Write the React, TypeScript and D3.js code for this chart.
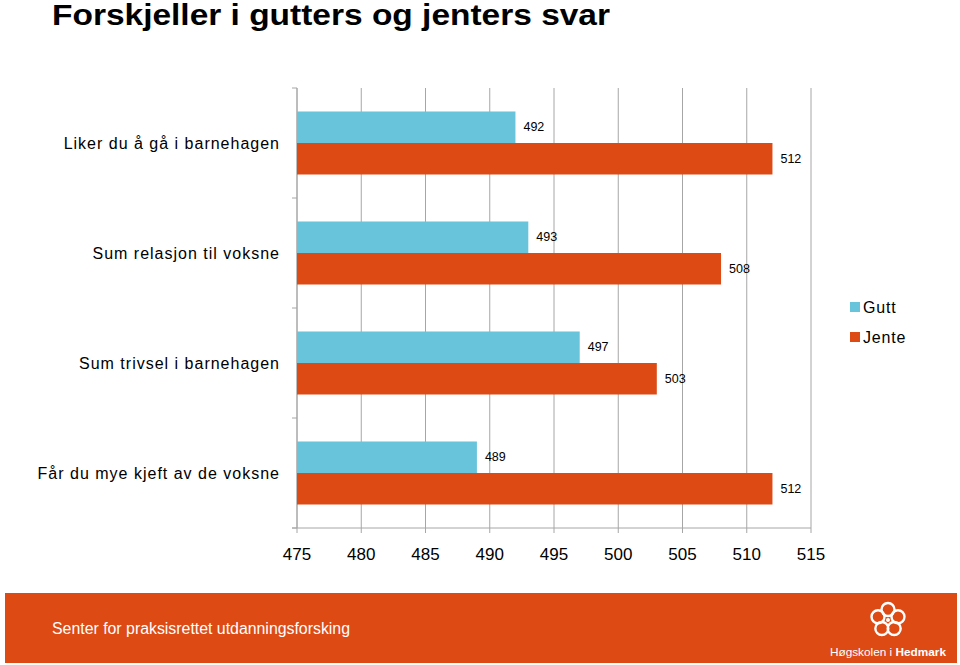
import React from "react";
import * as d3 from "d3";

const categories = [
  "Liker du å gå i barnehagen",
  "Sum relasjon til voksne",
  "Sum trivsel i barnehagen",
  "Får du mye kjeft av de voksne",
];
const seriesNames = ["Gutt", "Jente"];
const guttValues = [492, 493, 497, 489];
const jenteValues = [512, 508, 503, 512];
const xTicks = [475, 480, 485, 490, 495, 500, 505, 510, 515];
const colors = ["#67C4DB", "#DD4A14"];

export default function App() {
  const W = 960, H = 665;
  const left = 297, right = 811, top = 88, bottom = 528;
  const x = d3.scaleLinear().domain([475, 515]).range([left, right]);
  const y = d3.scaleBand<string>().domain(categories).range([top, bottom]);
  const inner = d3.scaleBand<string>().domain(seriesNames).range([0, 63]);
  const font = "'Liberation Sans', Arial, sans-serif";
  const series = [guttValues, jenteValues];

  return (
    <svg width={W} height={H} style={{ position: "absolute", left: 0, top: 0 }} fontFamily={font}>
      <rect width={W} height={H} fill="#fff" />
      <text x={52} y={25} fontSize={29} fontWeight="bold" fill="#000" textLength={558} lengthAdjust="spacingAndGlyphs">Forskjeller i gutters og jenters svar</text>
      {/* gridlines */}
      {xTicks.map((t) => (
        <line key={t} x1={x(t)} x2={x(t)} y1={top} y2={bottom + 5} stroke="#A6A6A6" strokeWidth={1} />
      ))}
      {/* left axis */}
      <line x1={left} x2={left} y1={top} y2={bottom} stroke="#A6A6A6" />
      {[...categories.map((c) => y(c)!), bottom].map((v, i) => (
        <line key={i} x1={left - 5} x2={left} y1={v} y2={v} stroke="#A6A6A6" />
      ))}
      <line x1={left - 5} x2={right} y1={bottom} y2={bottom} stroke="#A6A6A6" />
      {/* bars */}
      {categories.map((c, i) => {
        const y0 = y(c)! + (y.bandwidth() - 63) / 2;
        return (
          <g key={c}>
            <text x={280} y={y(c)! + y.bandwidth() / 2} textAnchor="end" dominantBaseline="central" fontSize={16} letterSpacing={1} fill="#000">{c}</text>
            {seriesNames.map((s, j) => {
              const v = series[j][i];
              const by = y0 + inner(s)!;
              return (
                <g key={s}>
                  <rect x={left} y={by} width={x(v) - left} height={inner.bandwidth()} fill={colors[j]} />
                  <text x={x(v) + 8} y={by + inner.bandwidth() / 2} dominantBaseline="central" fontSize={12.5} fill="#000">{v}</text>
                </g>
              );
            })}
          </g>
        );
      })}
      {/* x tick labels */}
      {xTicks.map((t) => (
        <text key={t} x={x(t)} y={560} textAnchor="middle" fontSize={17} fill="#000">{t}</text>
      ))}
      {/* legend */}
      {seriesNames.map((s, j) => (
        <g key={s}>
          <rect x={850} y={302 + j * 30} width={10} height={10} fill={colors[j]} />
          <text x={863} y={307 + j * 30} dominantBaseline="central" fontSize={16} letterSpacing={0.8} fill="#000">{s}</text>
        </g>
      ))}
      {/* footer */}
      <rect x={5} y={593} width={952} height={70} fill="#DD4A14" />
      <text x={52} y={634} fontSize={16} fill="#fff" textLength={298} lengthAdjust="spacingAndGlyphs">Senter for praksisrettet utdanningsforsking</text>
      <g transform="translate(888,620)" fill="none" stroke="#fff" strokeWidth={2.4}>
        {d3.range(5).map((k) => {
          const a = (k * 72 - 90) * Math.PI / 180;
          return <circle key={k} cx={Math.cos(a) * 10.5} cy={Math.sin(a) * 10.5} r={6.5} />;
        })}
        <circle cx={0} cy={0} r={2} fill="#fff" stroke="none" />
      </g>
      <text x={946} y={656} textAnchor="end" fontSize={11.8} fill="#fff">
        Høgskolen i <tspan fontWeight="bold">Hedmark</tspan>
      </text>
    </svg>
  );
}
